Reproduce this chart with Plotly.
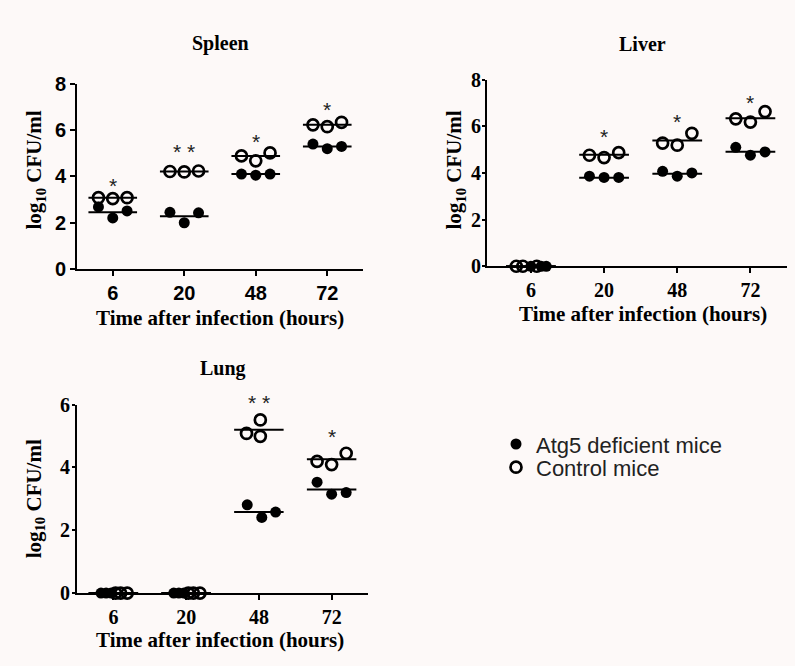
import plotly.graph_objects as go

# ---------------- data ----------------
categories = ["6", "20", "48", "72"]

spleen_atg5 = [[2.68, 2.21, 2.51], [2.45, 2.00, 2.43], [4.10, 4.05, 4.10], [5.39, 5.19, 5.29]]
spleen_ctrl = [[3.08, 3.04, 3.08], [4.21, 4.19, 4.23], [4.88, 4.67, 5.01], [6.22, 6.14, 6.33]]
spleen_atg5_line = [2.45, 2.28, 4.10, 5.29]
spleen_ctrl_line = [3.08, 4.21, 4.88, 6.22]
spleen_stars = ["*", "* *", "*", "*"]
spleen_star_y = [3.62, 5.08, 5.50, 6.88]

liver_atg5 = [[0, 0, 0], [3.86, 3.81, 3.81], [4.07, 3.86, 4.00], [5.10, 4.76, 4.90]]
liver_ctrl = [[0, 0, 0], [4.76, 4.66, 4.87], [5.28, 5.19, 5.70], [6.32, 6.18, 6.63]]
liver_atg5_line = [0, 3.80, 3.97, 4.91]
liver_ctrl_line = [0, 4.78, 5.39, 6.35]
liver_stars = ["", "*", "*", "*"]
liver_star_y = [None, 5.55, 6.21, 7.00]

lung_atg5 = [[0, 0, 0], [0, 0, 0], [2.81, 2.41, 2.58], [3.53, 3.15, 3.20]]
lung_ctrl = [[0, 0, 0], [0, 0, 0], [5.08, 4.99, 5.51], [4.19, 4.09, 4.45]]
lung_atg5_line = [0, 0, 2.58, 3.30]
lung_ctrl_line = [0, 0, 5.20, 4.26]
lung_stars = ["", "", "* *", "*"]
lung_star_y = [None, None, 6.06, 4.99]

# ---------------- style ----------------
BG = "#fdf9f8"
STD_OFF = [-0.2, 0.0, 0.2]
spleen_off_f = [STD_OFF] * 4
spleen_off_o = [STD_OFF] * 4
liver_off_f = [[0.0, 0.14, 0.21], STD_OFF, STD_OFF, STD_OFF]
liver_off_o = [[-0.2, -0.11, 0.08], STD_OFF, STD_OFF, STD_OFF]
lung_off_f = [[-0.17, -0.1, -0.03], [-0.17, -0.1, -0.03], [-0.16, 0.04, 0.23], STD_OFF]
lung_off_o = [[0.03, 0.1, 0.19], [0.03, 0.1, 0.19], [-0.17, 0.02, 0.02], STD_OFF]

HALF = 0.34

fig = go.Figure()

panels = [
    dict(name="Spleen", xa="x", ya="y", f=spleen_atg5, o=spleen_ctrl, fl=spleen_atg5_line,
         ol=spleen_ctrl_line, st=spleen_stars, sty=spleen_star_y, offf=spleen_off_f, offo=spleen_off_o,
         xdom=[77/795, 363/795], ydom=[1-267/666, 1-75/666], xr=[-0.5, 3.5], yr=[0, 8], dt=2,
         tickfam="Liberation Sans", ytl=5, ystand=0),
    dict(name="Liver", xa="x2", ya="y2", f=liver_atg5, o=liver_ctrl, fl=liver_atg5_line,
         ol=liver_ctrl_line, st=liver_stars, sty=liver_star_y, offf=liver_off_f, offo=liver_off_o,
         xdom=[487/795, 787/795], ydom=[1-264/666, 1-71/666], xr=[-0.6, 3.5], yr=[0, 8], dt=2,
         tickfam="Liberation Serif", ytl=3, ystand=-3),
    dict(name="Lung", xa="x3", ya="y3", f=lung_atg5, o=lung_ctrl, fl=lung_atg5_line,
         ol=lung_ctrl_line, st=lung_stars, sty=lung_star_y, offf=lung_off_f, offo=lung_off_o,
         xdom=[77/795, 368/795], ydom=[1-602/666, 1-407/666], xr=[-0.5, 3.5], yr=[0, 6], dt=2,
         tickfam="Liberation Serif", ytl=3, ystand=-2),
]

star_font = dict(family="Liberation Sans", size=21, color="#222")

first = True
for p in panels:
    # mean lines
    for vals in (p["fl"], p["ol"]):
        lx, ly = [], []
        for i, v in enumerate(vals):
            lx += [i - HALF, i + HALF, None]
            ly += [v, v, None]
        fig.add_trace(go.Scatter(x=lx, y=ly, mode="lines", line=dict(color="black", width=2),
                                 xaxis=p["xa"], yaxis=p["ya"], showlegend=False, hoverinfo="skip",
                                 cliponaxis=False))
    # filled points
    fx, fy = [], []
    for i, grp in enumerate(p["f"]):
        for j, v in enumerate(grp):
            fx.append(i + p["offf"][i][j]); fy.append(v)
    fig.add_trace(go.Scatter(x=fx, y=fy, mode="markers", name="Atg5 deficient mice",
                             marker=dict(symbol="circle", size=11, color="black"),
                             xaxis=p["xa"], yaxis=p["ya"], showlegend=first, legend="legend",
                             cliponaxis=False))
    # open points
    ox, oy = [], []
    for i, grp in enumerate(p["o"]):
        for j, v in enumerate(grp):
            ox.append(i + p["offo"][i][j]); oy.append(v)
    fig.add_trace(go.Scatter(x=ox, y=oy, mode="markers", name="Control mice",
                             marker=dict(symbol="circle-open", size=11, color="black",
                                         line=dict(width=2.7, color="black")),
                             xaxis=p["xa"], yaxis=p["ya"], showlegend=first, legend="legend2",
                             cliponaxis=False))
    first = False
    # significance stars (placed in the axis' own domain frame so they may sit above the top tick)
    r0, r1 = p["yr"]
    for i, (s, y) in enumerate(zip(p["st"], p["sty"])):
        if s:
            fig.add_annotation(x=i, y=(y - r0) / (r1 - r0), xref=p["xa"], yref=p["ya"] + " domain",
                               text=s, showarrow=False, font=star_font,
                               xanchor="center", yanchor="middle")

axis_common = dict(showline=True, linecolor="black", linewidth=2, ticks="outside",
                   tickwidth=2, tickcolor="black", showgrid=False, zeroline=False)

leg_common = dict(xanchor="left", yanchor="middle", bgcolor="rgba(0,0,0,0)",
                  font=dict(family="Liberation Sans", size=22, color="#222"),
                  itemwidth=30, borderwidth=0)

layout = dict(width=795, height=666, margin=dict(l=0, r=0, t=0, b=0),
              paper_bgcolor=BG, plot_bgcolor=BG, showlegend=True,
              legend=dict(leg_common, x=496/795, y=1-448/666),
              legend2=dict(leg_common, x=496/795, y=1-472/666))

for k, p in enumerate(panels):
    sfx = "" if k == 0 else str(k + 1)
    tf = dict(family=p["tickfam"], size=20, color="black", weight="bold")
    layout["xaxis" + sfx] = dict(axis_common, domain=p["xdom"], range=p["xr"], tickvals=[0, 1, 2, 3],
                                 ticktext=categories, tickfont=tf, anchor="y" + sfx, ticklen=5)
    layout["yaxis" + sfx] = dict(axis_common, domain=p["ydom"], range=p["yr"], dtick=p["dt"],
                                 tickfont=tf, anchor="x" + sfx, ticklen=p["ytl"],
                                 ticklabelstandoff=p["ystand"])

fig.update_layout(**layout)

ann_font = dict(family="Liberation Serif", size=20, color="black", weight="bold")
title_font = dict(family="Liberation Serif", size=21, color="black", weight="bold")
annotations = [
    dict(text="Spleen", x=220/795, y=1-34/666, font=ann_font),
    dict(text="Liver", x=642/795, y=1-34/666, font=ann_font),
    dict(text="Lung", x=223/795, y=1-370/666, font=ann_font),
    dict(text="Time after infection (hours)", x=220/795, y=1-317/666, font=title_font),
    dict(text="Time after infection (hours)", x=643/795, y=1-313/666, font=title_font),
    dict(text="Time after infection (hours)", x=220/795, y=1-650/666, font=title_font),
    dict(text="log<sub>10</sub> CFU/ml", x=35/795, y=1-165/666, textangle=-90, font=title_font),
    dict(text="log<sub>10</sub> CFU/ml", x=455/795, y=1-165/666, textangle=-90, font=title_font),
    dict(text="log<sub>10</sub> CFU/ml", x=35/795, y=1-505/666, textangle=-90, font=title_font),
]
for a in annotations:
    fig.add_annotation(xref="paper", yref="paper", showarrow=False,
                       xanchor="center", yanchor="middle", **a)

fig.write_html("out.html")
